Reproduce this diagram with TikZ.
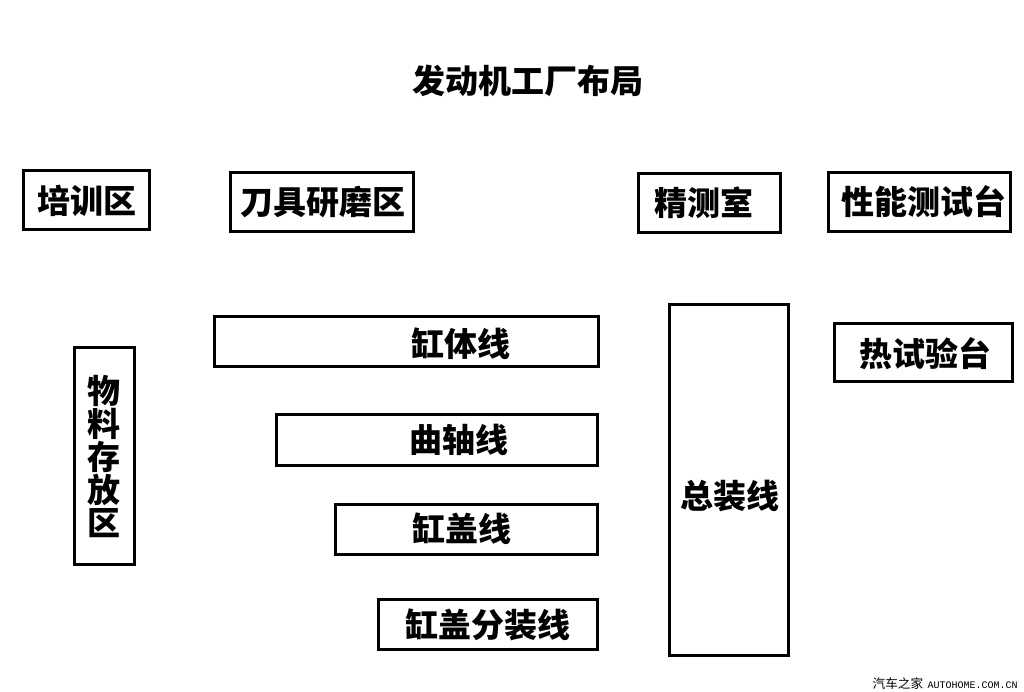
\documentclass[tikz,border=0pt]{standalone}
\usepackage{fontspec}
\newfontfamily\cjk{Noto Sans CJK SC}[BoldFont={Noto Sans CJK SC Black}]
\setmonofont{Liberation Mono}
\tikzset{
	zone/.style={line width=2.25pt},
	lbl/.style={inner sep=0.75pt,font=\cjk\bfseries\fontsize{24.75pt}{24.75pt}\selectfont}
}
\begin{document}
\begin{tikzpicture}[x=0.75pt,y=0.75pt,yscale=-1,xscale=1]
	\useasboundingbox (0,0) rectangle (1024,692);

	%Shape: Rectangle [id:zone_training]
	\draw [zone] (23.5,170.5) rectangle (149.5,229.5) ;
	%Shape: Rectangle [id:zone_tools]
	\draw [zone] (230.5,172.5) rectangle (413.5,231.5) ;
	%Shape: Rectangle [id:zone_metrology]
	\draw [zone] (638.5,173.5) rectangle (780.5,232.5) ;
	%Shape: Rectangle [id:zone_perftest]
	\draw [zone] (828.5,172.5) rectangle (1010.5,231.5) ;
	%Shape: Rectangle [id:zone_block]
	\draw [zone] (214.5,316.5) rectangle (598.5,366.5) ;
	%Shape: Rectangle [id:zone_store]
	\draw [zone] (74.5,347.5) rectangle (134.5,564.5) ;
	%Shape: Rectangle [id:zone_assembly]
	\draw [zone] (669.5,304.5) rectangle (788.5,655.5) ;
	%Shape: Rectangle [id:zone_hottest]
	\draw [zone] (834.5,323.5) rectangle (1012.5,381.5) ;
	%Shape: Rectangle [id:zone_crank]
	\draw [zone] (276.5,414.5) rectangle (597.5,465.5) ;
	%Shape: Rectangle [id:zone_head]
	\draw [zone] (335.5,504.5) rectangle (597.5,554.5) ;
	%Shape: Rectangle [id:zone_subhead]
	\draw [zone] (378.5,599.5) rectangle (597.5,649.5) ;

	% Text Node
	\draw (528,81) node (title) [lbl] {发动机工厂布局};
	% Text Node
	\draw (87,201) node (training) [lbl] {培训区};
	% Text Node
	\draw (323,202) node (tools) [lbl] {刀具研磨区};
	% Text Node
	\draw (704,203) node (metrology) [lbl] {精测室};
	% Text Node
	\draw (924,202) node (perftest) [lbl] {性能测试台};
	% Text Node
	\draw (461,344) node (block) [lbl] {缸体线};
	% Text Node
	\draw (104,456) node (store) [lbl,align=center] {物\\料\\存\\放\\区};
	% Text Node
	\draw (730,496) node (assembly) [lbl] {总装线};
	% Text Node
	\draw (925,354) node (hottest) [lbl] {热试验台};
	% Text Node
	\draw (459,440) node (crank) [lbl] {曲轴线};
	% Text Node
	\draw (462,529) node (head) [lbl] {缸盖线};
	% Text Node
	\draw (488,625) node (subhead) [lbl] {缸盖分装线};
	% Text Node
	\draw (1018,684) node (mark) [anchor=east,inner sep=0pt] {{\cjk\fontsize{9.5pt}{9.5pt}\selectfont 汽车之家} {\ttfamily\fontsize{7.5pt}{7.5pt}\selectfont AUTOHOME.COM.CN}};

\end{tikzpicture}
\end{document}
